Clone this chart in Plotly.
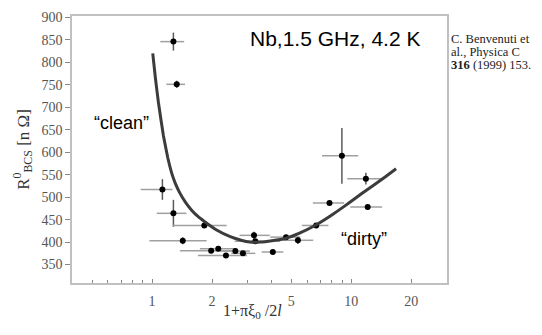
import plotly.graph_objects as go

# measured points: x, y, x-low, x-high, y-error
pt_x = [1.28, 1.33, 1.127, 1.28, 1.83, 1.426, 1.98, 2.15, 2.35, 2.62, 2.86, 3.25, 3.30, 4.04, 4.71, 5.40, 6.67, 7.78, 8.98, 11.85, 12.1]
pt_y = [846, 751, 517, 464, 437, 403, 381, 385, 370, 380, 375, 415, 402, 378, 411, 404, 437, 487, 592, 541, 478]
pt_xlo = [1.10, 1.18, 0.877, 1.056, 1.27, 0.97, 1.38, 1.74, 1.70, 2.20, 2.50, 2.75, 2.60, 3.55, 3.92, 4.55, 5.65, 6.42, 7.13, 9.55, 9.89]
pt_xhi = [1.45, 1.465, 1.265, 1.49, 2.37, 1.88, 2.70, 2.64, 3.00, 3.10, 3.30, 3.90, 4.40, 4.56, 5.55, 6.45, 7.68, 9.21, 10.85, 14.2, 14.3]
pt_yerr = [20, 8, 23, 30, 0, 8, 5, 5, 5, 4, 3, 8, 4, 0, 0, 8, 0, 0, 62, 13, 6]

# fitted curve
fit_x = [1.008, 1.04, 1.076, 1.14, 1.20, 1.256, 1.31, 1.38, 1.47, 1.58, 1.70, 1.83, 2.11, 2.47, 2.8, 3.1, 3.5, 4.0, 4.66, 5.5, 6.58, 7.55, 8.6, 9.89, 11.3, 12.9, 14.8, 16.8]
fit_y = [820, 764, 711, 637, 587, 553, 530, 509, 489, 471, 457, 446, 427, 412, 404, 400, 400, 403, 408, 420, 437, 453, 470, 489, 508, 526, 545, 563]

x_labels = [1, 2, 5, 10, 20]
x_minor = [0.5, 0.6, 0.7, 0.8, 0.9, 3, 4, 6, 7, 8, 9]
y_ticks = [350, 400, 450, 500, 550, 600, 650, 700, 750, 800, 850, 900]

err_plus = [h - x for h, x in zip(pt_xhi, pt_x)]
err_minus = [x - l for l, x in zip(pt_xlo, pt_x)]

fig = go.Figure()
fig.add_trace(go.Scatter(
    x=pt_x, y=pt_y, mode="markers",
    marker=dict(color="black", size=6),
    error_x=dict(type="data", symmetric=False, array=err_plus, arrayminus=err_minus,
                 color="#a0a0a0", thickness=1.5, width=0),
    error_y=dict(type="data", array=pt_yerr, color="#5a5a5a", thickness=1.5, width=0),
    showlegend=False,
))
fig.add_trace(go.Scatter(
    x=fit_x, y=fit_y, mode="lines", line=dict(color="#3c3c3c", width=3, shape="spline", smoothing=0.3),
    showlegend=False,
))

serif = "Liberation Serif, Times New Roman, serif"
sans = "Liberation Sans, Arial, sans-serif"

fig.update_layout(
    width=542, height=335,
    margin=dict(l=72, r=95, t=10, b=52),
    paper_bgcolor="white", plot_bgcolor="white",
    xaxis=dict(
        type="log", range=[-0.402, 1.481],
        tickvals=x_labels, ticktext=[str(v) for v in x_labels],
        ticks="inside", ticklen=4, tickcolor="#888", tickwidth=1,
        minor=dict(tickvals=x_minor, ticks="inside", ticklen=3, tickcolor="#888", showgrid=False),
        showgrid=False, zeroline=False,
        showline=True, linecolor="#c0c0c0", linewidth=1.5, mirror=True,
        tickfont=dict(family=serif, size=14, color="#555"),
        ticklabelstandoff=4,
    ),
    yaxis=dict(
        range=[309, 903],
        tickvals=y_ticks,
        ticks="outside", ticklen=5, tickcolor="#888",
        showgrid=False, zeroline=False,
        showline=True, linecolor="#c0c0c0", linewidth=1.5, mirror=True,
        tickfont=dict(family=serif, size=14, color="#555"),
        title=dict(text="R<sup>0</sup><sub>BCS</sub> [n Ω]", font=dict(family=serif, size=17, color="#333"), standoff=8),
    ),
    annotations=[
        dict(text="1+πξ<sub>0</sub> /2<i>l</i>", xref="paper", yref="paper", x=0.48, y=-0.106,
             xanchor="center", yanchor="middle", showarrow=False,
             font=dict(family=serif, size=16, color="#333")),
        dict(text="Nb,1.5 GHz, 4.2 K", xref="paper", yref="paper", x=0.47, y=0.915,
             xanchor="left", yanchor="middle", showarrow=False,
             font=dict(family=sans, size=21, color="black")),
        dict(text="“clean”", xref="paper", yref="paper", x=0.053, y=0.60,
             xanchor="left", yanchor="middle", showarrow=False,
             font=dict(family=sans, size=18, color="black")),
        dict(text="“dirty”", xref="paper", yref="paper", x=0.712, y=0.165,
             xanchor="left", yanchor="middle", showarrow=False,
             font=dict(family=sans, size=18, color="black")),
        dict(text="C. Benvenuti et", xref="paper", yref="paper", x=1.0, y=0.915,
             xanchor="left", yanchor="middle", xshift=2, showarrow=False,
             font=dict(family=serif, size=12.5, color="#222")),
        dict(text="al., Physica C", xref="paper", yref="paper", x=1.0, y=0.866,
             xanchor="left", yanchor="middle", xshift=2, showarrow=False,
             font=dict(family=serif, size=12.5, color="#222")),
        dict(text="<b>316</b> (1999) 153.", xref="paper", yref="paper", x=1.0, y=0.817,
             xanchor="left", yanchor="middle", xshift=2, showarrow=False,
             font=dict(family=serif, size=12.5, color="#222")),
    ],
)

fig.write_html("out.html")
